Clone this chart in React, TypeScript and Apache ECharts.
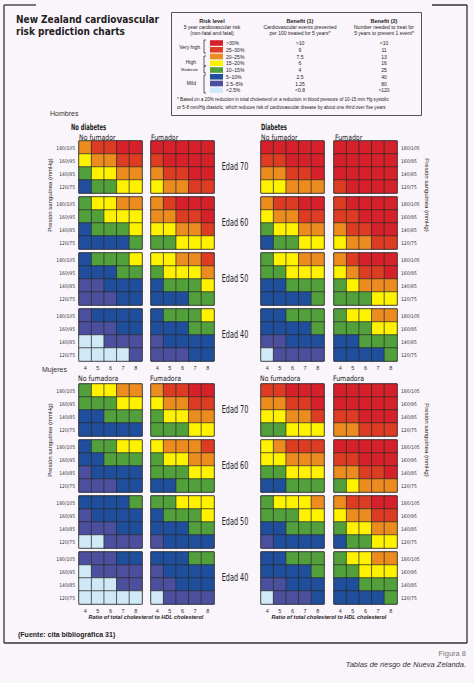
import React, { useEffect, useRef } from 'react';
import * as echarts from 'echarts';

// ---------- data ----------
const BP_LABELS = ['180/105', '160/95', '140/85', '120/75'];
const RATIO_LABELS = ['4', '5', '6', '7', '8'];
const AGE_LABELS = ['Edad 70', 'Edad 60', 'Edad 50', 'Edad 40'];

// risk level index: 0 <2.5%, 1 2.5–5%, 2 5–10%, 3 10–15%, 4 15–20%, 5 20–25%, 6 25–30%, 7 >30%
const RISK_COLORS = ['#cfe9f7', '#4b4f9d', '#1f4f9c', '#51a03c', '#fff200', '#ec8b1e', '#de3b23', '#d6202a'];
const LEGEND_BANDS = ['>30%', '25–30%', '20–25%', '15–20%', '10–15%', '5–10%', '2.5–5%', '<2.5%'];
const LEGEND_BENEFIT1 = ['>10', '9', '7.5', '6', '4', '2.5', '1.25', '<0.8'];
const LEGEND_BENEFIT2 = ['<10', '11', '13', '16', '25', '40', '80', '>120'];

// each: [age70, age60, age50, age40], each age: rows 180/105..120/75, cols ratio 4..8
const menNoDiabNonSmoker = [
  [[5, 6, 6, 7, 7], [4, 5, 5, 6, 6], [3, 4, 4, 5, 5], [2, 3, 3, 4, 4]],
  [[3, 4, 4, 5, 5], [3, 3, 4, 4, 4], [2, 3, 3, 3, 4], [2, 2, 2, 2, 3]],
  [[2, 3, 3, 3, 4], [2, 2, 2, 3, 3], [1, 1, 2, 2, 2], [1, 1, 1, 2, 2]],
  [[1, 2, 2, 2, 2], [1, 1, 1, 2, 2], [0, 0, 1, 1, 1], [0, 0, 0, 0, 1]],
];
const menNoDiabSmoker = [
  [[7, 7, 7, 7, 7], [6, 7, 7, 7, 7], [5, 6, 6, 7, 7], [4, 5, 5, 6, 6]],
  [[5, 6, 7, 7, 7], [5, 5, 6, 6, 7], [4, 4, 5, 5, 6], [3, 3, 4, 4, 4]],
  [[4, 4, 5, 5, 6], [3, 4, 4, 4, 5], [2, 3, 3, 3, 4], [2, 2, 2, 3, 3]],
  [[2, 3, 3, 3, 4], [2, 2, 2, 3, 3], [1, 2, 2, 2, 2], [1, 1, 1, 2, 2]],
];
const menDiabNonSmoker = [
  [[7, 7, 7, 7, 7], [6, 6, 7, 7, 7], [5, 5, 6, 6, 7], [4, 4, 5, 5, 5]],
  [[5, 6, 6, 7, 7], [4, 5, 5, 6, 6], [3, 4, 4, 5, 5], [2, 3, 3, 4, 4]],
  [[3, 4, 4, 5, 5], [3, 3, 4, 4, 4], [2, 2, 3, 3, 3], [2, 2, 2, 2, 3]],
  [[2, 2, 3, 3, 3], [2, 2, 2, 2, 3], [1, 1, 2, 2, 2], [0, 1, 1, 1, 1]],
];
const menDiabSmoker = [
  [[7, 7, 7, 7, 7], [7, 7, 7, 7, 7], [7, 7, 7, 7, 7], [6, 7, 7, 7, 7]],
  [[6, 7, 7, 7, 7], [6, 6, 7, 7, 7], [5, 6, 6, 7, 7], [4, 5, 5, 6, 6]],
  [[5, 6, 7, 7, 7], [4, 5, 6, 6, 7], [3, 4, 5, 5, 5], [3, 3, 3, 4, 4]],
  [[3, 4, 4, 5, 5], [3, 3, 3, 4, 4], [2, 2, 3, 3, 3], [2, 2, 2, 2, 3]],
];
const womenNoDiabNonSmoker = [
  [[3, 4, 4, 5, 5], [3, 3, 3, 4, 4], [2, 2, 3, 3, 3], [2, 2, 2, 2, 2]],
  [[2, 3, 3, 4, 4], [2, 2, 3, 3, 3], [1, 2, 2, 2, 2], [1, 1, 1, 2, 2]],
  [[2, 2, 2, 2, 3], [1, 2, 2, 2, 2], [1, 1, 1, 2, 2], [0, 0, 1, 1, 1]],
  [[1, 1, 1, 2, 2], [0, 1, 1, 1, 1], [0, 0, 0, 1, 1], [0, 0, 0, 0, 0]],
];
const womenNoDiabSmoker = [
  [[5, 6, 6, 7, 7], [4, 5, 5, 6, 6], [3, 4, 4, 5, 5], [3, 3, 3, 4, 4]],
  [[4, 5, 5, 5, 6], [3, 4, 4, 5, 5], [3, 3, 3, 4, 4], [2, 2, 3, 3, 3]],
  [[3, 3, 4, 4, 4], [2, 3, 3, 3, 4], [2, 2, 2, 3, 3], [1, 2, 2, 2, 2]],
  [[2, 2, 2, 3, 3], [1, 2, 2, 2, 2], [1, 1, 2, 2, 2], [0, 1, 1, 1, 1]],
];
const womenDiabNonSmoker = [
  [[6, 6, 7, 7, 7], [5, 5, 6, 6, 7], [4, 4, 5, 5, 6], [3, 3, 4, 4, 4]],
  [[4, 5, 6, 6, 6], [4, 4, 5, 5, 5], [3, 3, 4, 4, 4], [2, 2, 3, 3, 3]],
  [[3, 4, 4, 4, 5], [3, 3, 3, 4, 4], [2, 2, 3, 3, 3], [1, 2, 2, 2, 2]],
  [[2, 2, 3, 3, 3], [2, 2, 2, 2, 3], [1, 1, 2, 2, 2], [0, 1, 1, 1, 2]],
];
const womenDiabSmoker = [
  [[7, 7, 7, 7, 7], [7, 7, 7, 7, 7], [6, 6, 7, 7, 7], [5, 5, 6, 6, 6]],
  [[7, 7, 7, 7, 7], [6, 6, 7, 7, 7], [5, 5, 6, 6, 7], [3, 4, 5, 5, 5]],
  [[5, 6, 6, 7, 7], [4, 5, 5, 6, 6], [3, 4, 4, 5, 5], [2, 3, 3, 4, 4]],
  [[3, 4, 4, 5, 5], [3, 3, 4, 4, 4], [2, 2, 3, 3, 3], [2, 2, 2, 2, 3]],
];

const MEN_PANELS = [menNoDiabNonSmoker, menNoDiabSmoker, menDiabNonSmoker, menDiabSmoker];
const WOMEN_PANELS = [womenNoDiabNonSmoker, womenNoDiabSmoker, womenDiabNonSmoker, womenDiabSmoker];

// ---------- layout ----------
const PANEL_X = [79, 151, 261, 334];
const MEN_TOP = [141, 197, 253, 309];
const WOMEN_TOP = [384, 440, 496, 552];
const GW = 63;
const GH = 52;
const NARROW = "'Liberation Sans Narrow', 'DejaVu Sans Condensed', 'Liberation Sans', sans-serif";
const SANS = "'Liberation Sans', Arial, sans-serif";

function T(text: string, x: number, y: number, o: any = {}) {
  return {
    type: 'text',
    x,
    y,
    rotation: o.rotation || 0,
    scaleX: o.scaleX || 1,
    silent: true,
    style: {
      text,
      fill: o.fill || '#222',
      fontSize: o.size || 7,
      fontFamily: o.family || NARROW,
      fontWeight: o.weight || 'normal',
      fontStyle: o.style || 'normal',
      align: o.align || 'left',
      verticalAlign: 'middle',
      textAlign: o.align || 'left',
      textVerticalAlign: 'middle',
    },
  };
}
function L(x1: number, y1: number, x2: number, y2: number, stroke = '#333', w = 1.3) {
  return { type: 'line', silent: true, shape: { x1, y1, x2, y2 }, style: { stroke, lineWidth: w } };
}
function P(points: number[][], stroke = '#333', w = 0.8) {
  return { type: 'polyline', silent: true, shape: { points }, style: { stroke, lineWidth: w, fill: 'none' } };
}

export default function App() {
  const ref = useRef<HTMLDivElement>(null);
  useEffect(() => {
    if (!ref.current) return;
    const chart = echarts.init(ref.current, null, { renderer: 'svg' });

    const grids: any[] = [];
    const xAxes: any[] = [];
    const yAxes: any[] = [];
    const series: any[] = [];
    const sexes = [
      { panels: MEN_PANELS, tops: MEN_TOP },
      { panels: WOMEN_PANELS, tops: WOMEN_TOP },
    ];
    sexes.forEach((sx) => {
      for (let a = 0; a < 4; a++) {
        for (let p = 0; p < 4; p++) {
          const idx = grids.length;
          grids.push({
            left: PANEL_X[p],
            top: sx.tops[a],
            width: GW,
            height: GH,
            show: true,
            borderColor: '#2b2b2b',
            borderWidth: 1,
            backgroundColor: 'transparent',
          });
          xAxes.push({
            type: 'category',
            gridIndex: idx,
            data: RATIO_LABELS,
            position: 'bottom',
            axisLine: { show: false },
            axisTick: { show: false },
            splitLine: { show: false },
            axisLabel: { show: a === 3, fontSize: 5.5, margin: 4, color: '#333', fontFamily: SANS },
          });
          yAxes.push({
            type: 'category',
            gridIndex: idx,
            data: BP_LABELS,
            inverse: true,
            position: p === 3 ? 'right' : 'left',
            axisLine: { show: false },
            axisTick: { show: false },
            splitLine: { show: false },
            axisLabel: { show: p === 0 || p === 3, fontSize: 5, margin: 4, color: '#333', fontFamily: NARROW },
          });
          const arr = sx.panels[p][a];
          const data: number[][] = [];
          arr.forEach((row, r) => row.forEach((v, c) => data.push([c, r, v])));
          series.push({
            type: 'heatmap',
            xAxisIndex: idx,
            yAxisIndex: idx,
            data,
            itemStyle: { borderColor: '#2b2b2b', borderWidth: 0.7 },
            emphasis: { disabled: true },
          });
        }
      }
    });

    const g: any[] = [];
    // outer frame
    g.push(L(4, 5, 36, 5), L(432, 5, 467, 5), L(4, 5, 4, 643), L(467, 5, 467, 643), L(4, 643, 467, 643));
    // title
    g.push(T('New Zealand cardiovascular', 16, 19, { size: 10, weight: 'bold' }));
    g.push(T('risk prediction charts', 16, 31, { size: 10, weight: 'bold' }));
    // legend box
    g.push({ type: 'rect', silent: true, shape: { x: 171.5, y: 12.5, width: 250, height: 103 }, style: { fill: 'transparent', stroke: '#555', lineWidth: 1 } });
    g.push(T('Risk level', 212, 21, { size: 5.5, weight: 'bold', align: 'center', family: SANS }));
    g.push(T('5 year cardiovascular risk', 212, 27, { size: 5, align: 'center', family: SANS }));
    g.push(T('(non-fatal and fatal)', 212, 33, { size: 5, align: 'center', family: SANS }));
    g.push(T('Benefit (1)', 300, 21, { size: 5.5, weight: 'bold', align: 'center', family: SANS }));
    g.push(T('Cardiovascular events prevented', 300, 27, { size: 5, align: 'center', family: SANS }));
    g.push(T('per 100 treated for 5 years*', 300, 33, { size: 5, align: 'center', family: SANS }));
    g.push(T('Benefit (2)', 384, 21, { size: 5.5, weight: 'bold', align: 'center', family: SANS }));
    g.push(T('Number needed to treat for', 384, 27, { size: 5, align: 'center', family: SANS }));
    g.push(T('5 years to prevent 1 event*', 384, 33, { size: 5, align: 'center', family: SANS }));
    LEGEND_BANDS.forEach((b, i) => {
      const y = 43 + i * 6.75;
      g.push({ type: 'rect', silent: true, shape: { x: 210, y: y - 2.8, width: 13, height: 5.6 }, style: { fill: RISK_COLORS[7 - i], stroke: 'none' } });
      g.push(T(b, 226, y, { size: 5, family: SANS }));
      g.push(T(LEGEND_BENEFIT1[i], 300, y, { size: 5, align: 'center', family: SANS }));
      g.push(T(LEGEND_BENEFIT2[i], 384, y, { size: 5, align: 'center', family: SANS }));
    });
    g.push(T('Very high', 200, 47, { size: 5, align: 'right', family: SANS }));
    g.push(P([[206, 40], [204, 40], [204, 53], [206, 53]]));
    g.push(T('High', 196, 62, { size: 5, align: 'right', family: SANS }));
    g.push(P([[206, 56], [204, 56], [204, 66], [206, 66]]));
    g.push(T('Moderate', 198, 69, { size: 4, align: 'right', family: SANS }));
    g.push(P([[206, 66], [204, 66], [204, 73], [206, 73]]));
    g.push(T('Mild', 196, 83, { size: 5, align: 'right', family: SANS }));
    g.push(P([[206, 75], [204, 75], [204, 93], [206, 93]]));
    g.push(T('* Based on a 20% reduction in total cholesterol or a reduction in blood pressure of 10-15 mm Hg systolic', 177, 99.5, { size: 4.6, family: SANS }));
    g.push(T('or 5-8 mm/Hg diastolic, which reduces risk of cardiovascular disease by about one third over five years', 177, 107.5, { size: 4.6, family: SANS }));

    // section headers
    g.push(T('Hombres', 50, 113, { size: 7, family: SANS, fill: '#333' }));
    g.push(T('No diabetes', 71, 127, { size: 8.5, weight: 'bold', scaleX: 0.68 }));
    g.push(T('No fumador', 79, 137, { size: 7.5, scaleX: 0.92 }));
    g.push(T('Fumador', 151, 137, { size: 7.5, scaleX: 0.92 }));
    g.push(T('Diabetes', 261, 127, { size: 8.5, weight: 'bold', scaleX: 0.68 }));
    g.push(T('No fumador', 261, 137, { size: 7.5, scaleX: 0.92 }));
    g.push(T('Fumador', 335, 137, { size: 7.5, scaleX: 0.92 }));
    g.push(T('Mujeres', 42, 369, { size: 7, family: SANS, fill: '#333' }));
    g.push(T('No fumadora', 78, 378, { size: 7.5, scaleX: 0.92 }));
    g.push(T('Fumadora', 150, 378, { size: 7.5, scaleX: 0.92 }));
    g.push(T('No fumadora', 260, 378, { size: 7.5, scaleX: 0.92 }));
    g.push(T('Fumadora', 333, 378, { size: 7.5, scaleX: 0.92 }));

    // age labels
    AGE_LABELS.forEach((lab, a) => {
      g.push(T(lab, 235, MEN_TOP[a] + GH / 2, { size: 10, align: 'center', scaleX: 0.72 }));
      g.push(T(lab, 235, WOMEN_TOP[a] + GH / 2, { size: 10, align: 'center', scaleX: 0.72 }));
    });
    // rotated axis titles
    [195, 440].forEach((cy) => {
      g.push(T('Presión sanguínea (mmHg)', 50, cy, { size: 6, align: 'center', rotation: Math.PI / 2, family: SANS }));
      g.push(T('Presión sanguínea (mmHg)', 427, cy, { size: 6, align: 'center', rotation: -Math.PI / 2, family: SANS }));
    });
    // x titles
    g.push(T('Ratio of total cholesterol to HDL cholesterol', 146, 617, { size: 5.5, weight: 'bold', style: 'italic', align: 'center', family: SANS }));
    g.push(T('Ratio of total cholesterol to HDL cholesterol', 329, 617, { size: 5.5, weight: 'bold', style: 'italic', align: 'center', family: SANS }));
    // footer
    g.push(T('(Fuente: cita bibliográfica 31)', 18, 634, { size: 7, weight: 'bold', family: SANS }));
    g.push(T('Figura 8', 466, 653, { size: 7.5, align: 'right', fill: '#777', family: SANS }));
    g.push(T('Tablas de riesgo de Nueva Zelanda.', 466, 664, { size: 7.5, align: 'right', style: 'italic', fill: '#333', family: SANS }));

    chart.setOption({
      animation: false,
      backgroundColor: '#faf5fa',
      grid: grids,
      xAxis: xAxes,
      yAxis: yAxes,
      visualMap: {
        type: 'piecewise',
        show: false,
        dimension: 2,
        seriesIndex: series.map((_, i) => i),
        pieces: RISK_COLORS.map((c, i) => ({ value: i, color: c })),
      },
      series,
      graphic: { elements: g },
    });
    return () => chart.dispose();
  }, []);
  return <div ref={ref} style={{ position: 'absolute', left: 0, top: 0, width: 474, height: 683 }} />;
}
